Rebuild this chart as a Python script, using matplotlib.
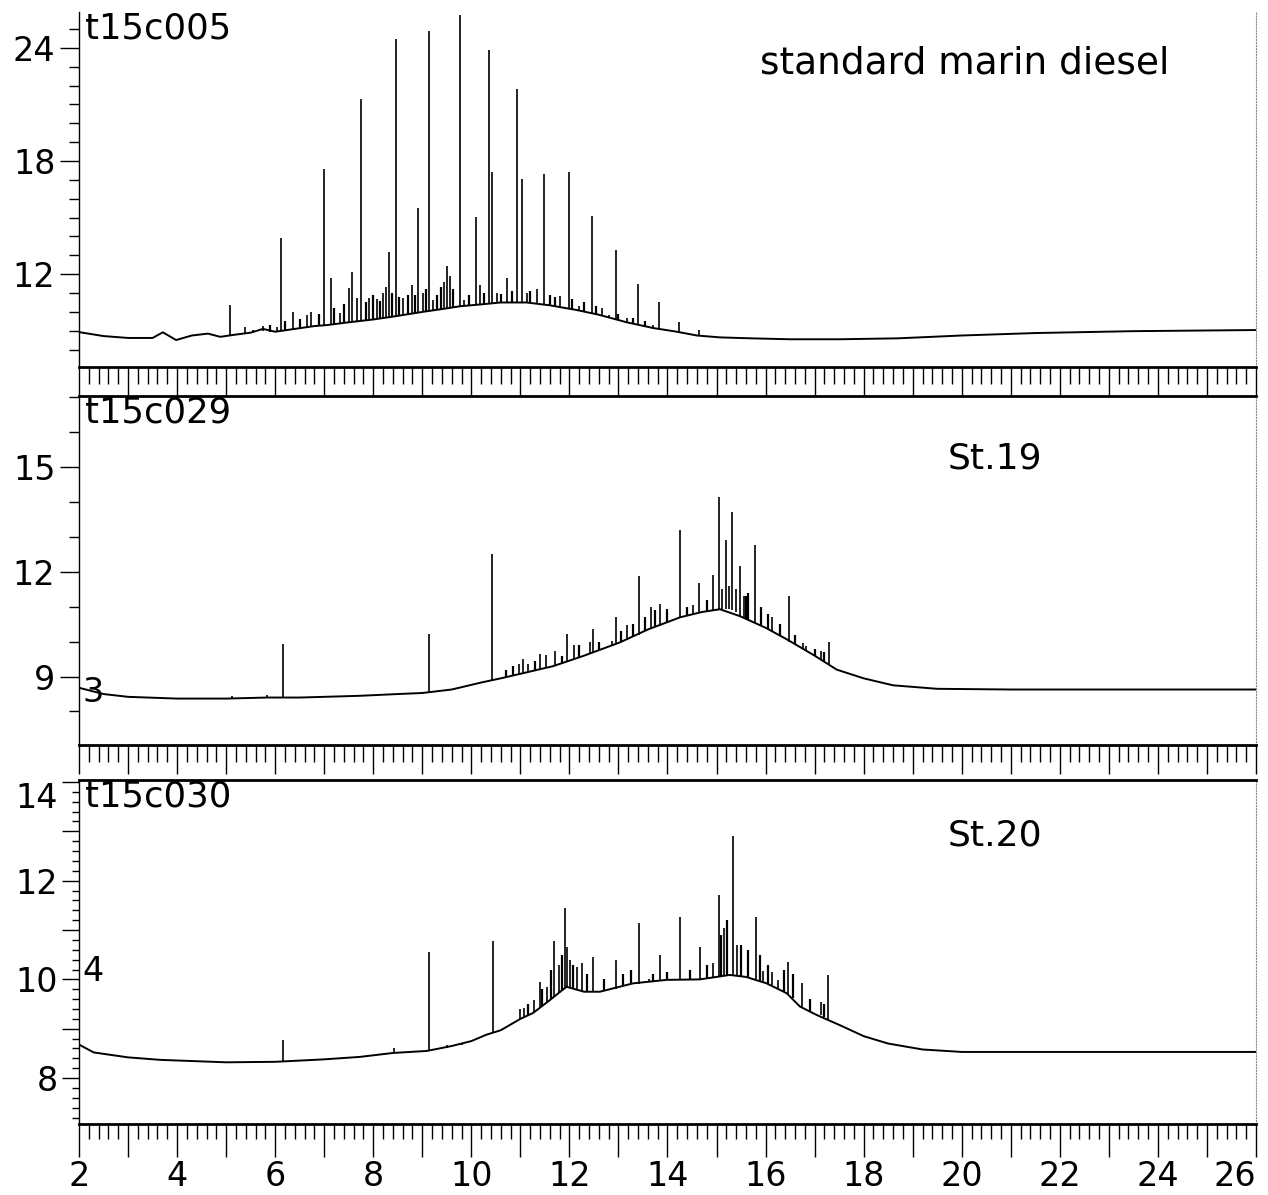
import matplotlib
matplotlib.use("Agg")
import matplotlib.pyplot as plt
from matplotlib.ticker import MultipleLocator, FuncFormatter

# retention time (min) and signal

# t15c005 - standard marin diesel
base1_t = [2.0, 2.5, 3.0, 3.5, 3.71, 3.98, 4.3, 4.63, 4.88, 5.2, 5.5, 5.75, 6.0, 6.4, 6.8, 7.05,
           7.5, 8.0, 8.4, 9.0, 9.4, 9.77, 10.2, 10.6, 11.13, 11.6, 12.15, 12.6, 13.17, 13.7,
           14.19, 14.6, 15.07, 15.7, 16.5, 17.5, 18.7, 20.0, 21.5, 23.5, 26.0]
base1_v = [8.93, 8.72, 8.62, 8.62, 8.92, 8.51, 8.75, 8.85, 8.68, 8.8, 8.9, 9.1, 8.95, 9.1, 9.25, 9.3,
           9.45, 9.6, 9.75, 10.0, 10.15, 10.3, 10.4, 10.5, 10.5, 10.35, 10.1, 9.85, 9.45, 9.15,
           8.95, 8.75, 8.65, 8.6, 8.55, 8.55, 8.6, 8.75, 8.88, 8.98, 9.04]
peak1_t = [5.08, 5.39, 5.55, 5.75, 6.03, 6.11, 6.37, 6.64, 6.74, 7.00, 7.13, 7.32, 7.51, 7.56,
           7.66, 7.75, 7.92, 8.07, 8.20, 8.27, 8.33, 8.46, 8.61, 8.80, 8.91, 9.02, 9.14, 9.22,
           9.45, 9.50, 9.57, 9.77, 9.85, 10.10, 10.18, 10.37, 10.43, 10.52, 10.72, 10.94, 11.03,
           11.13, 11.33, 11.48, 11.81, 11.99, 12.19, 12.46, 12.66, 12.80, 12.94, 13.17, 13.39,
           13.70, 13.83, 14.24, 14.64]
peak1_top = [10.37, 9.22, 9.05, 9.28, 9.22, 13.92, 10.0, 9.84, 10.0, 17.58, 11.8, 9.94, 11.27, 12.1,
             10.74, 21.3, 10.74, 10.7, 11.0, 11.3, 13.2, 24.48, 10.74, 11.43, 15.5, 11.0, 24.9, 10.63,
             11.6, 12.44, 11.9, 25.75, 10.63, 15.05, 11.43, 23.9, 17.4, 11.0, 11.8, 21.8, 17.05,
             11.0, 11.2, 17.3, 10.85, 17.4, 10.3, 15.1, 10.2, 9.85, 13.3, 9.66, 11.5,
             9.3, 10.5, 9.48, 9.04]
peak1_bot = [8.78, 8.88, 8.9, 9.0, 8.95, 8.98, 9.1, 9.15, 9.2, 9.28, 9.3, 9.4, 9.45, 9.45,
             9.5, 9.52, 9.58, 9.62, 9.67, 9.7, 9.72, 9.77, 9.85, 9.92, 9.96, 10.0, 10.05, 10.08,
             10.17, 10.2, 10.22, 10.3, 10.32, 10.38, 10.4, 10.45, 10.46, 10.48, 10.5, 10.5, 10.5,
             10.5, 10.45, 10.4, 10.25, 10.18, 10.08, 9.95, 9.82, 9.72, 9.62, 9.45, 9.33,
             9.15, 9.1, 8.93, 8.75]
# small unresolved peaks on the hump
grass1_t = [5.9, 6.2, 6.5, 6.9, 7.2, 7.4, 7.85, 8.0, 8.13, 8.38, 8.52, 8.7, 8.85, 9.08, 9.3,
            9.38, 9.62, 9.95, 10.25, 10.6, 10.82, 11.2, 11.6, 11.7, 12.05, 12.3, 12.55, 13.0,
            13.3, 13.55]
grass1_top = [9.3, 9.5, 9.6, 9.9, 10.2, 10.4, 10.5, 10.9, 10.6, 11.0, 10.8, 10.9, 10.9, 11.2, 10.9,
              11.3, 11.2, 10.9, 11.0, 10.95, 11.1, 11.1, 10.9, 10.8, 10.7, 10.5, 10.3, 9.9,
              9.7, 9.5]
grass1_bot = [8.95, 9.02, 9.12, 9.26, 9.33, 9.42, 9.55, 9.6, 9.64, 9.74, 9.8, 9.88, 9.94, 10.02, 10.12,
              10.15, 10.25, 10.35, 10.42, 10.5, 10.5, 10.48, 10.35, 10.3, 10.15, 10.02, 9.9, 9.58,
              9.38, 9.25]

# t15c029 - St.19
base2_t = [2.0, 2.5, 3.0, 4.0, 5.0, 5.84, 6.5, 7.0, 7.73, 8.5, 9.0, 9.6, 10.2, 10.6, 11.0, 11.67,
           12.3, 13.03, 13.6, 14.26, 14.7, 15.07, 15.48, 16.0, 16.43, 17.0, 17.45, 18.0, 18.6,
           19.5, 21.0, 26.0]
base2_v = [8.68, 8.5, 8.42, 8.37, 8.37, 8.4, 8.4, 8.42, 8.45, 8.5, 8.53, 8.63, 8.83, 8.95, 9.08, 9.3,
           9.6, 9.98, 10.35, 10.7, 10.85, 10.93, 10.73, 10.4, 10.07, 9.6, 9.2, 8.95, 8.75,
           8.65, 8.63, 8.63]
peak2_t = [5.11, 5.83, 6.15, 9.14, 10.43, 10.98, 11.06, 11.16, 11.41, 11.52, 11.71, 11.96, 12.1,
           12.42, 12.48, 12.86, 12.96, 13.17, 13.41, 13.66, 13.85, 14.26, 14.53, 14.65, 14.92,
           15.04, 15.12, 15.19, 15.26, 15.32, 15.40, 15.48, 15.55, 15.78, 16.14, 16.48, 16.76,
           16.82, 17.14, 17.30]
peak2_top = [8.45, 8.48, 9.92, 10.22, 12.52, 9.35, 9.49, 9.35, 9.66, 9.63, 9.73, 10.21, 9.9,
             9.98, 10.35, 10.02, 10.71, 10.48, 11.89, 10.99, 11.07, 13.21, 11.06, 11.68, 11.92,
             14.15, 11.5, 12.9, 11.6, 13.72, 11.5, 12.18, 11.3, 12.76, 10.72, 11.31, 9.97,
             9.87, 9.73, 9.99]
peak2_bot = [8.37, 8.4, 8.4, 8.55, 8.88, 9.07, 9.1, 9.13, 9.2, 9.24, 9.32, 9.45, 9.5,
             9.65, 9.68, 9.88, 9.93, 10.05, 10.2, 10.38, 10.45, 10.7, 10.8, 10.83, 10.9,
             10.93, 10.95, 10.95, 10.95, 10.9, 10.85, 10.75, 10.7, 10.55, 10.3, 10.0, 9.8,
             9.75, 9.5, 9.35]
grass2_t = [10.7, 10.85, 11.3, 11.85, 12.2, 12.6, 13.05, 13.3, 13.55, 13.75, 14.0, 14.4, 14.8,
            15.6, 15.65, 15.9, 16.05, 16.3, 16.6, 17.0, 17.2]
grass2_top = [9.2, 9.3, 9.45, 9.6, 9.9, 10.0, 10.3, 10.5, 10.7, 10.9, 10.95, 11.0, 11.2,
              11.3, 11.4, 11.0, 10.8, 10.5, 10.2, 9.8, 9.7]
grass2_bot = [8.98, 9.03, 9.16, 9.4, 9.55, 9.75, 10.0, 10.13, 10.3, 10.42, 10.55, 10.75, 10.88,
              10.65, 10.62, 10.47, 10.37, 10.17, 9.9, 9.6, 9.45]

# t15c030 - St.20
base3_t = [2.0, 2.3, 3.0, 3.65, 5.0, 6.0, 7.0, 7.73, 8.41, 9.09, 9.6, 10.0, 10.31, 10.6, 11.0,
           11.26, 11.6, 11.94, 12.3, 12.62, 13.3, 13.98, 14.66, 15.27, 15.6, 16.02, 16.43, 16.7,
           17.04, 17.52, 18.0, 18.5, 19.2, 20.0, 26.0]
base3_v = [8.68, 8.52, 8.42, 8.37, 8.32, 8.33, 8.38, 8.43, 8.51, 8.55, 8.65, 8.75, 8.88, 8.97, 9.2,
           9.32, 9.58, 9.85, 9.75, 9.75, 9.92, 9.99, 10.0, 10.09, 10.05, 9.92, 9.72, 9.45,
           9.28, 9.07, 8.85, 8.7, 8.58, 8.53, 8.53]
peak3_t = [6.15, 8.43, 9.14, 9.50, 9.80, 10.44, 10.99, 11.07, 11.28, 11.39, 11.54, 11.69, 11.78,
           11.90, 11.96, 12.02, 12.15, 12.26, 12.49, 12.96, 13.41, 13.62, 13.85, 14.26, 14.66,
           14.92, 15.04, 15.16, 15.33, 15.42, 15.80, 15.95, 16.14, 16.26, 16.46, 16.74, 17.12,
           17.28]
peak3_top = [8.77, 8.6, 10.56, 8.67, 8.72, 10.77, 9.4, 9.42, 9.58, 9.95, 9.85, 10.77, 10.3,
             11.44, 10.66, 10.4, 10.26, 10.34, 10.46, 10.39, 11.14, 10.0, 10.49, 11.27, 10.65,
             10.33, 11.7, 11.05, 12.91, 10.7, 11.27, 10.16, 10.15, 9.99, 10.36, 9.92, 9.55,
             10.09]
peak3_bot = [8.33, 8.51, 8.55, 8.62, 8.68, 8.92, 9.2, 9.23, 9.33, 9.42, 9.53, 9.65, 9.72,
             9.8, 9.85, 9.85, 9.8, 9.76, 9.75, 9.8, 9.9, 9.95, 9.96, 9.99, 10.0,
             10.05, 10.05, 10.07, 10.09, 10.08, 10.0, 9.95, 9.88, 9.8, 9.7, 9.42, 9.28,
             9.2]
grass3_t = [11.15, 11.45, 11.62, 11.84, 12.08, 12.35, 12.7, 13.1, 13.25, 13.7, 14.0, 14.45, 14.8,
            15.1, 15.22, 15.5, 15.65, 15.88, 16.05, 16.38, 16.55, 16.9, 17.2]
grass3_top = [9.5, 9.8, 10.2, 10.5, 10.3, 10.1, 10.0, 10.1, 10.2, 10.1, 10.15, 10.2, 10.3,
              10.9, 11.2, 10.7, 10.6, 10.5, 10.3, 10.2, 10.1, 9.6, 9.5]
grass3_bot = [9.27, 9.47, 9.6, 9.76, 9.82, 9.75, 9.77, 9.87, 9.9, 9.96, 9.99, 10.0, 10.03,
              10.06, 10.08, 10.07, 10.04, 9.97, 9.9, 9.75, 9.62, 9.35, 9.24]

runs = ["t15c005", "t15c029", "t15c030"]
samples = ["standard marin diesel", "St.19", "St.20"]
exponents = ["", "3", "4"]

plt.rcParams["font.family"] = "DejaVu Sans"

W, H = 1268, 1195
fig = plt.figure(figsize=(W / 100, H / 100), dpi=100)

# panel boxes in pixels: top, bottom
boxes = [(12, 367), (396, 745), (780, 1124)]
ylims = [(7.08, 25.9), (7.04, 17.04), (7.07, 14.04)]
x0, x1 = 79, 1256

datos = [
    (base1_t, base1_v, peak1_t, peak1_top, peak1_bot, grass1_t, grass1_top, grass1_bot),
    (base2_t, base2_v, peak2_t, peak2_top, peak2_bot, grass2_t, grass2_top, grass2_bot),
    (base3_t, base3_v, peak3_t, peak3_top, peak3_bot, grass3_t, grass3_top, grass3_bot),
]

solo_pares = FuncFormatter(lambda v, p: "%d" % v if int(round(v)) % 2 == 0 else "")

ejes = []
for i in range(3):
    top, bot = boxes[i]
    ax = fig.add_axes([x0 / W, 1 - bot / H, (x1 - x0) / W, (bot - top) / H])
    bt, bv, pt, ptop, pbot, gt, gtop, gbot = datos[i]
    ax.plot(bt, bv, color="k", lw=1.4)
    ax.vlines(pt, pbot, ptop, color="k", lw=1.2)
    ax.vlines(gt, gbot, gtop, color="k", lw=1.6)
    ax.set_xlim(2, 26)
    ax.set_ylim(*ylims[i])

    ax.spines["bottom"].set_linewidth(2.0)
    ax.spines["left"].set_linewidth(1.0)
    ax.spines["right"].set_linestyle(":")
    ax.spines["right"].set_color("0.55")
    ax.spines["right"].set_linewidth(0.8)
    if i == 0:
        ax.spines["top"].set_visible(False)
    else:
        ax.spines["top"].set_linewidth(2.0)

    ax.xaxis.set_major_locator(MultipleLocator(1))
    ax.xaxis.set_minor_locator(MultipleLocator(0.2))
    ax.tick_params(axis="x", which="both", direction="out", width=1.0, top=False)
    if i == 2:
        ax.tick_params(axis="x", which="major", length=24, pad=2, labelsize=24)
        ax.tick_params(axis="x", which="minor", length=11)
        ax.xaxis.set_major_formatter(solo_pares)
    else:
        ax.tick_params(axis="x", which="major", length=21, labelbottom=False)
        ax.tick_params(axis="x", which="minor", length=12, labelbottom=False)

    ax.tick_params(axis="y", which="both", direction="out", width=1.0, right=False, labelsize=24, pad=3)
    if i == 0:
        ax.yaxis.set_major_locator(MultipleLocator(6))
        ax.yaxis.set_minor_locator(MultipleLocator(1))
        ax.tick_params(axis="y", which="major", length=14)
        ax.tick_params(axis="y", which="minor", length=7)
    elif i == 1:
        ax.yaxis.set_major_locator(MultipleLocator(3))
        ax.yaxis.set_minor_locator(MultipleLocator(1))
        ax.tick_params(axis="y", which="major", length=14)
        ax.tick_params(axis="y", which="minor", length=7)
    else:
        ax.yaxis.set_major_locator(MultipleLocator(1))
        ax.yaxis.set_minor_locator(MultipleLocator(0.2))
        ax.yaxis.set_major_formatter(solo_pares)
        ax.tick_params(axis="y", which="major", length=12)
        ax.tick_params(axis="y", which="minor", length=5)

    ax.text(0.005, 0.953, runs[i], transform=ax.transAxes, fontsize=25.5, va="center", ha="left")
    if i == 0:
        ax.text(0.579, 0.856, samples[i], transform=ax.transAxes, fontsize=27, va="center", ha="left")
    else:
        ax.text(0.738, 0.822 if i == 1 else 0.84, samples[i], transform=ax.transAxes,
                fontsize=26, va="center", ha="left")
    if exponents[i]:
        ax.text(0.003, 0.149 if i == 1 else 0.442, exponents[i], transform=ax.transAxes,
                fontsize=24, va="center", ha="left")
    ejes.append(ax)

fig.canvas.draw()
# top label of the last panel sits inside the frame, last time label ends at the edge
for lab in ejes[2].get_yticklabels():
    if lab.get_text() == "14":
        lab.set_verticalalignment("top")
for lab in ejes[2].get_xticklabels():
    if lab.get_text() == "26":
        lab.set_horizontalalignment("right")

fig.savefig("out.png", dpi=100)
